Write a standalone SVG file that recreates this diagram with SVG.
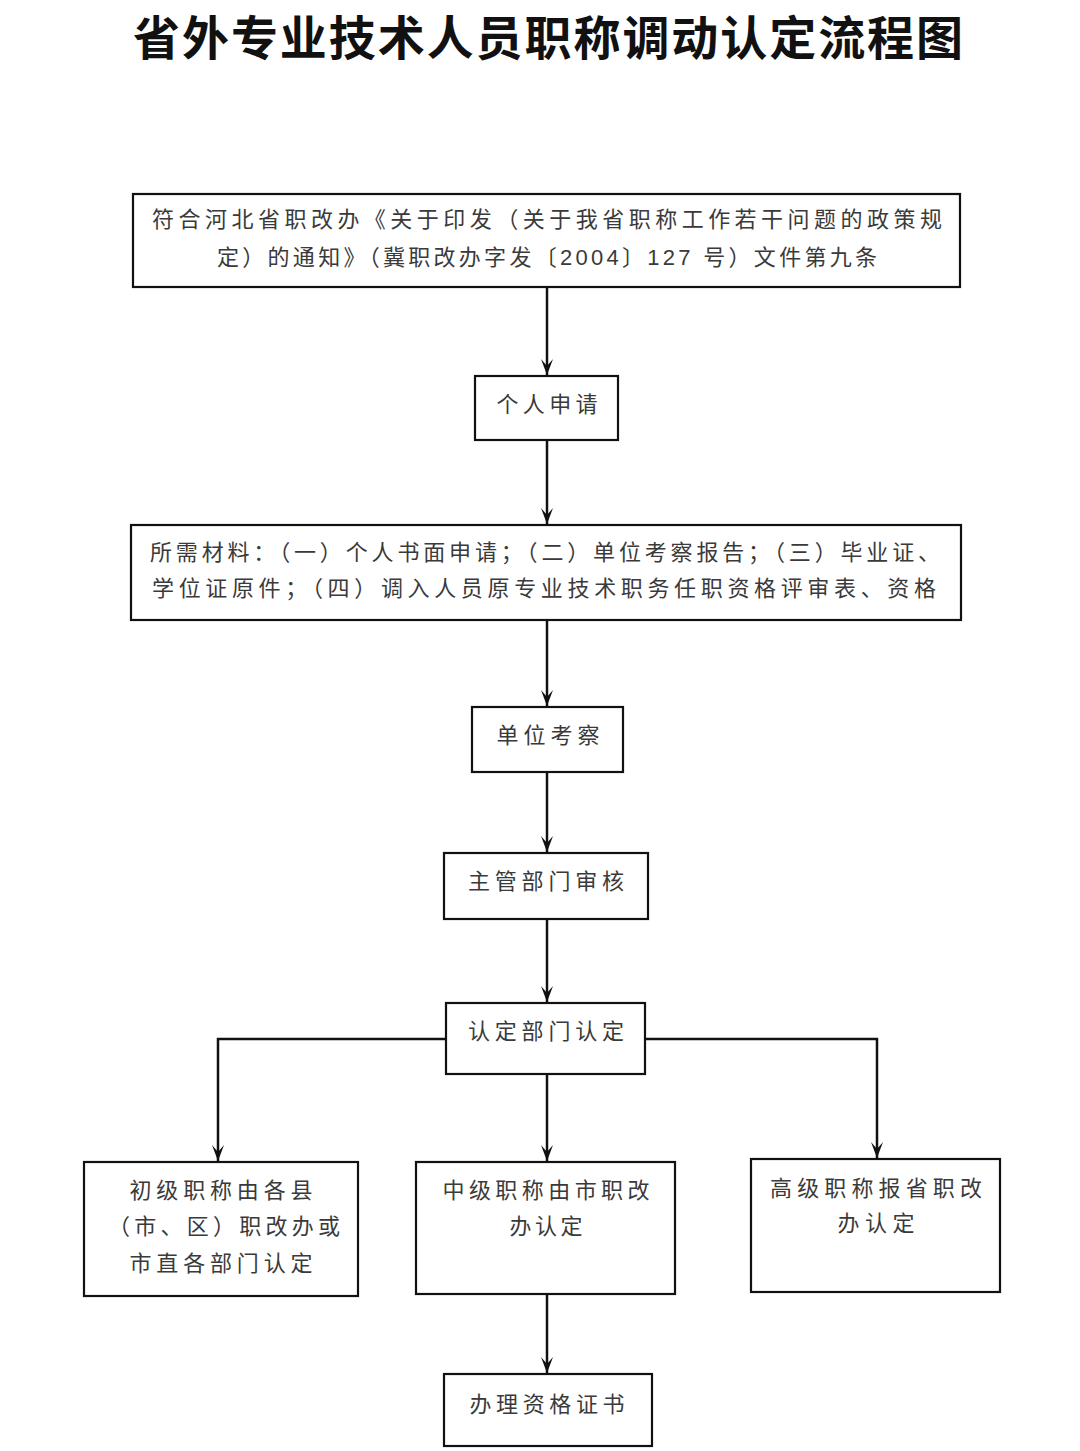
<svg xmlns="http://www.w3.org/2000/svg" width="1080" height="1451" viewBox="0 0 1080 1451">
<style>
.box{fill:#fff;stroke:#111;stroke-width:2.2}
.t{font-family:"Liberation Sans","Noto Sans CJK SC",sans-serif;font-size:22px;fill:#3a3a3a;text-anchor:middle;dominant-baseline:central}
.title{font-family:"Noto Sans CJK SC",sans-serif;font-size:47px;font-weight:bold;fill:#111;text-anchor:middle}
.c{fill:none;stroke:#111;stroke-width:2.5}
</style>
<defs>
<marker id="ah" viewBox="0 0 16 12" refX="16" refY="6" markerWidth="16" markerHeight="12" markerUnits="userSpaceOnUse" orient="auto">
<path d="M0,0 L16,6 L0,12 L7,6 Z" fill="#111"/>
</marker>
</defs>
<rect width="1080" height="1451" fill="#fff"/>
<text class="title" x="548" y="55" textLength="830" lengthAdjust="spacing">省外专业技术人员职称调动认定流程图</text>

<g id="connectors">
<line class="c" x1="547" y1="287" x2="547" y2="375" marker-end="url(#ah)"/>
<line class="c" x1="547" y1="440" x2="547" y2="524" marker-end="url(#ah)"/>
<line class="c" x1="547" y1="620" x2="547" y2="706" marker-end="url(#ah)"/>
<line class="c" x1="547" y1="772" x2="547" y2="852" marker-end="url(#ah)"/>
<line class="c" x1="547" y1="919" x2="547" y2="1002" marker-end="url(#ah)"/>
<line class="c" x1="547" y1="1074" x2="547" y2="1161" marker-end="url(#ah)"/>
<line class="c" x1="547" y1="1294" x2="547" y2="1373" marker-end="url(#ah)"/>
<polyline class="c" points="446,1039 218,1039 218,1161" marker-end="url(#ah)"/>
<polyline class="c" points="645,1039 877,1039 877,1158" marker-end="url(#ah)"/>
</g>

<g id="n1">
<rect class="box" x="133" y="194" width="827" height="93"/>
<text class="t" x="547" y="219" textLength="790" lengthAdjust="spacing">符合河北省职改办《关于印发（关于我省职称工作若干问题的政策规</text>
<text class="t" x="547" y="257" textLength="660" lengthAdjust="spacing">定）的通知》（冀职改办字发〔2004〕127 号）文件第九条</text>
</g>
<g id="n2">
<rect class="box" x="475" y="376" width="143" height="64"/>
<text class="t" x="547" y="404" textLength="101" lengthAdjust="spacing">个人申请</text>
</g>
<g id="n3">
<rect class="box" x="131" y="525" width="830" height="95"/>
<text class="t" x="545" y="552" textLength="790" lengthAdjust="spacing">所需材料：（一）个人书面申请；（二）单位考察报告；（三）毕业证、</text>
<text class="t" x="544" y="588" textLength="784" lengthAdjust="spacing">学位证原件；（四）调入人员原专业技术职务任职资格评审表、资格</text>
</g>
<g id="n4">
<rect class="box" x="472" y="707" width="151" height="65"/>
<text class="t" x="548" y="735" textLength="103" lengthAdjust="spacing">单位考察</text>
</g>
<g id="n5">
<rect class="box" x="444" y="853" width="204" height="66"/>
<text class="t" x="546" y="881" textLength="156" lengthAdjust="spacing">主管部门审核</text>
</g>
<g id="n6">
<rect class="box" x="446" y="1003" width="199" height="71"/>
<text class="t" x="546" y="1031" textLength="156" lengthAdjust="spacing">认定部门认定</text>
</g>
<g id="n7">
<rect class="box" x="84" y="1162" width="274" height="134"/>
<text class="t" x="221" y="1190" textLength="183" lengthAdjust="spacing">初级职称由各县</text>
<text class="t" x="224" y="1226" textLength="232" lengthAdjust="spacing">（市、区）职改办或</text>
<text class="t" x="221" y="1263" textLength="183" lengthAdjust="spacing">市直各部门认定</text>
</g>
<g id="n8">
<rect class="box" x="416" y="1162" width="259" height="132"/>
<text class="t" x="546" y="1190" textLength="207" lengthAdjust="spacing">中级职称由市职改</text>
<text class="t" x="546" y="1226" textLength="73" lengthAdjust="spacing">办认定</text>
</g>
<g id="n9">
<rect class="box" x="751" y="1159" width="249" height="133"/>
<text class="t" x="876" y="1188" textLength="212" lengthAdjust="spacing">高级职称报省职改</text>
<text class="t" x="876" y="1223" textLength="77" lengthAdjust="spacing">办认定</text>
</g>
<g id="n10">
<rect class="box" x="444" y="1374" width="208" height="72"/>
<text class="t" x="547" y="1404" textLength="155" lengthAdjust="spacing">办理资格证书</text>
</g>
</svg>
